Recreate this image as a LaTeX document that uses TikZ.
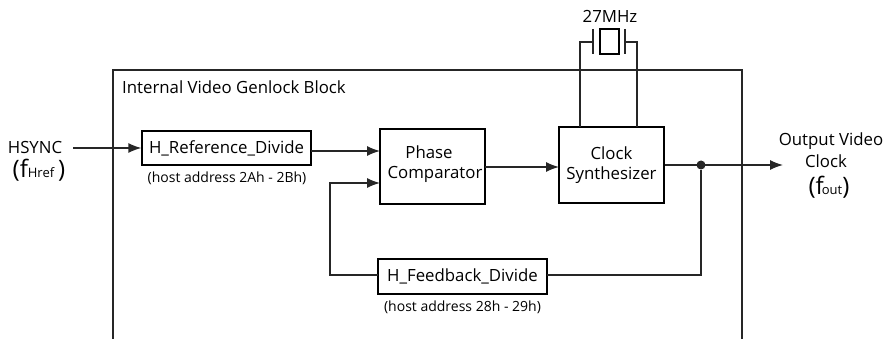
\documentclass[tikz,border=0pt]{standalone}
\usepackage{fontspec}
\setmainfont{Open Sans}
\usetikzlibrary{arrows.meta}
\tikzset{
  blockbox/.style={draw,line width=1.3pt,minimum height=0,inner sep=0,anchor=center},
  wire/.style={line width=1.3pt,draw=black!85},
  arrowwire/.style={wire,-{Latex[length=13pt,width=10pt]}},
  lbl/.style={inner sep=0,font=\fontsize{16.8}{20}\selectfont,align=center},
  small/.style={inner sep=0,font=\fontsize{14}{16}\selectfont},
}
\begin{document}
\begin{tikzpicture}[x=1pt,y=-1pt]
\useasboundingbox (0,0) rectangle (886,339);
% outer block, open at the bottom
\draw[wire] (113,339) -- (113,70) -- (742,70) -- (742,339);
\node[lbl,anchor=west] (title) at (122,87) {Internal Video Genlock Block};
% blocks
\node[blockbox,lbl,draw,minimum width=169pt,minimum height=34pt] (ref) at (226.5,148) {H\_Reference\_Divide};
\node[small] (refaddr) at (227,178) {(host address 2Ah - 2Bh)};
\node[blockbox,draw,minimum width=105pt,minimum height=75pt] (phase) at (432.5,166.5) {};
\node[lbl] (phasetxt) at (432.5,164) {\hspace*{-7pt}Phase\\\hspace*{5pt}Comparator};
\node[blockbox,lbl,draw,minimum width=105pt,minimum height=76pt] (clock) at (611.5,165) {Clock\\Synthesizer};
\node[blockbox,lbl,draw,minimum width=169pt,minimum height=35pt] (fb) at (462.5,276.5) {H\_Feedback\_Divide};
\node[small] (fbaddr) at (462.5,307) {(host address 28h - 29h)};
% crystal
\node[lbl] (xtal) at (610,16) {27MHz};
\node[blockbox,draw,minimum width=19pt,minimum height=25pt] (can) at (609.5,41.5) {};
\coordinate (plateLa) at (593,29);
\coordinate (plateLb) at (593,54);
\coordinate (plateRa) at (625,29);
\coordinate (plateRb) at (625,54);
\coordinate (wireL) at (580,42);
\coordinate (wireR) at (637,42);
\coordinate (clockL) at (580,127);
\coordinate (clockR) at (637,127);
\draw[wire] (plateLa) -- (plateLb);
\draw[wire] (plateRa) -- (plateRb);
\draw[wire] (plateLa|-wireL) -- (wireL) -- (clockL);
\draw[wire] (plateRa|-wireR) -- (wireR) -- (clockR);
% signals
\node[lbl,anchor=center] (hsync) at (35,148) {HSYNC};
\node[inner sep=0] (fhref) at (39,170) {\fontsize{24}{24}\selectfont(f\fontsize{13}{13}\selectfont Href\fontsize{24}{24}\selectfont\,)};
\node[lbl] (outlbl) at (831,141) {Output Video};
\node[lbl] (outlblb) at (826,161) {Clock};
\node[inner sep=0] (fout) at (829,187) {\fontsize{24}{24}\selectfont(f\hspace{-2pt}\fontsize{13}{13}\selectfont out\fontsize{24}{24}\selectfont)};
\coordinate (hsyncin) at (73,148);
\coordinate (refout) at (311,151);
\coordinate (phaseina) at (380,151);
\coordinate (phaseinb) at (380,183);
\coordinate (phaseout) at (485,167);
\coordinate (clockin) at (559,167);
\coordinate (bend) at (330,183);
\coordinate (fbcorner) at (701,275);
\coordinate (fbout) at (547,275);
\coordinate (fbin) at (378,275);
\coordinate (outend) at (783,165);
\draw[arrowwire] (hsyncin) -- (ref.west);
\draw[arrowwire] (refout) -- (phaseina);
\draw[arrowwire] (phaseout) -- (clockin);
\draw[arrowwire] (clock.east) -- (outend);
\node[circle,fill=black!85,inner sep=0,minimum size=9pt] (dot) at (701,165) {};
\draw[wire] (dot) -- (fbcorner) -- (fbout);
\draw[arrowwire] (fbin) -| (bend) -- (phaseinb);
\end{tikzpicture}
\end{document}
